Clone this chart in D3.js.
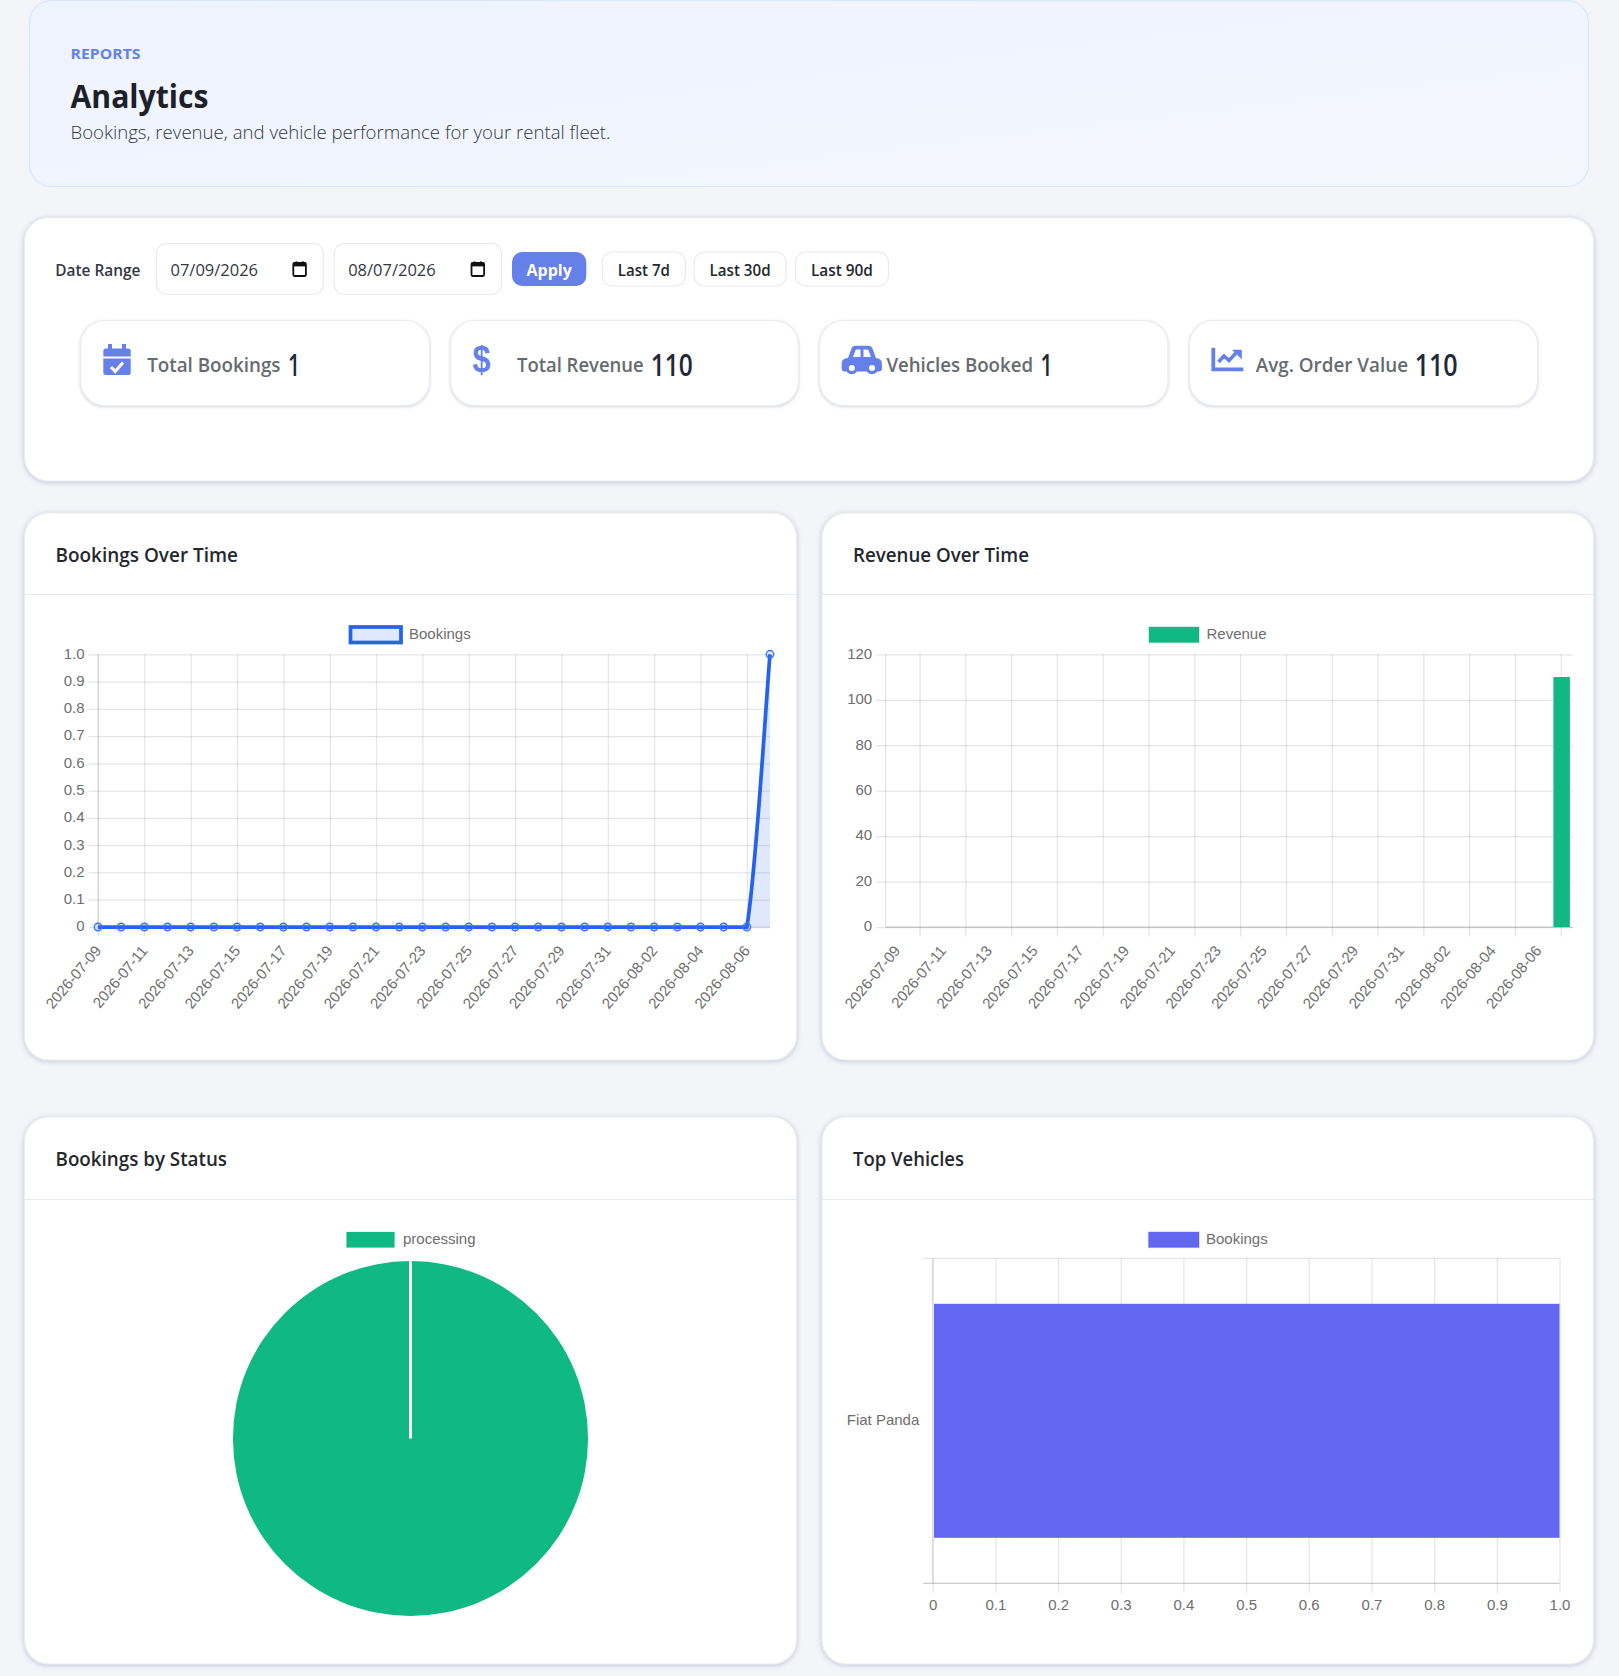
<!DOCTYPE html>
<html>
<head>
<meta charset="utf-8">
<title>Analytics</title>
<script src="https://cdn.jsdelivr.net/npm/d3@7"></script>
<style>
  html, body { margin: 0; padding: 0; background: #f4f5f9; }
  svg { display: block; }
  .ui { font-family: "Open Sans", "Noto Sans", sans-serif; }
  .chart text { font-family: "Liberation Sans", Arial, sans-serif; font-size: 15px; fill: #6e6e6e; }
  .panel { filter: drop-shadow(0 1px 2.5px rgba(45, 55, 100, 0.25)); }
  .kpi { filter: drop-shadow(0 1px 1.5px rgba(45, 55, 100, 0.2)); }
</style>
</head>
<body>
<div id="wrapper"></div>
<script>
const dates = ["2026-07-09", "2026-07-10", "2026-07-11", "2026-07-12", "2026-07-13", "2026-07-14",
  "2026-07-15", "2026-07-16", "2026-07-17", "2026-07-18", "2026-07-19", "2026-07-20", "2026-07-21",
  "2026-07-22", "2026-07-23", "2026-07-24", "2026-07-25", "2026-07-26", "2026-07-27", "2026-07-28",
  "2026-07-29", "2026-07-30", "2026-07-31", "2026-08-01", "2026-08-02", "2026-08-03", "2026-08-04",
  "2026-08-05", "2026-08-06", "2026-08-07"]
const bookings = [0, 0, 0, 0, 0, 0, 0, 0, 0, 0, 0, 0, 0, 0, 0, 0, 0, 0, 0, 0, 0, 0, 0, 0, 0, 0, 0, 0, 0, 1]
const revenue = [0, 0, 0, 0, 0, 0, 0, 0, 0, 0, 0, 0, 0, 0, 0, 0, 0, 0, 0, 0, 0, 0, 0, 0, 0, 0, 0, 0, 0, 110]
const statusNames = ["processing"]
const statusCounts = [1]
const vehicleNames = ["Fiat Panda"]
const vehicleBookings = [1]
const kpiLabels = ["Total Bookings", "Total Revenue", "Vehicles Booked", "Avg. Order Value"]
const kpiValues = ["1", "110", "1", "110"]
const rangeButtons = ["Last 7d", "Last 30d", "Last 90d"]
const bookingTicks = d3.range(0, 11).map(d => d / 10)
const revenueTicks = [0, 20, 40, 60, 80, 100, 120]
const vehicleTicks = d3.range(0, 11).map(d => d / 10)

const blue = "#2563eb"
const green = "#10b981"
const indigo = "#6366f1"
const accent = "#6580e9"
const gridColor = "rgba(0,0,0,0.1)"
const borderColor = "rgba(0,0,0,0.2)"

const svg = d3.select("#wrapper").append("svg")
  .attr("width", 1619)
  .attr("height", 1676)

const defs = svg.append("defs")
const heroGradient = defs.append("linearGradient").attr("id", "hero")
  .attr("x1", "0%").attr("y1", "0%").attr("x2", "100%").attr("y2", "100%")
heroGradient.append("stop").attr("offset", "0%").attr("stop-color", "#edf3ff")
heroGradient.append("stop").attr("offset", "100%").attr("stop-color", "#f5f7ff")

function box(parent, x0, y0, x1, y1, r, fill, stroke, cls) {
  return parent.append("rect")
    .attr("class", cls || null)
    .attr("x", x0).attr("y", y0)
    .attr("width", x1 - x0).attr("height", y1 - y0)
    .attr("rx", r)
    .attr("fill", fill)
    .attr("stroke", stroke || "none")
    .attr("stroke-width", stroke ? 1.2 : null)
}

function label(parent, x, y, str, o) {
  const t = parent.append("text")
    .attr("class", "ui")
    .attr("x", x).attr("y", y)
    .attr("font-size", o.size)
    .attr("font-weight", o.weight || 400)
    .attr("fill", o.fill || "#333")
    .attr("text-anchor", o.anchor || "start")
    .text(str)
  if (o.width) t.attr("textLength", o.width).attr("lengthAdjust", "spacingAndGlyphs")
  return t
}

// page header
box(svg, 29.5, 0.5, 1588.5, 186.5, 22, "url(#hero)", "#d9e5fb")
label(svg, 70.5, 59, "REPORTS", { size: 15, weight: 700, fill: accent, width: 70 })
label(svg, 70.5, 107.5, "Analytics", { size: 33, weight: 700, fill: "#1d2127", width: 138 })
label(svg, 70.5, 138.8, "Bookings, revenue, and vehicle performance for your rental fleet.", { size: 19, weight: 300, fill: "#33383f", width: 540 })

// filter panel
box(svg, 24.5, 217.5, 1593.5, 481, 24, "#fff", "#ebedf2", "panel")
label(svg, 55.3, 276, "Date Range", { size: 16, weight: 600, fill: "#33383f", width: 85 })

const inputs = [["07/09/2026", 156.5, 323.3], ["08/07/2026", 334.2, 501.5]]
inputs.forEach(([value, x0, x1]) => {
  box(svg, x0, 243.5, x1, 294.5, 10, "#fff", "#e8eaef")
  label(svg, x0 + 14, 276, value, { size: 16, fill: "#33383f", width: 87.5 })
  // native date input calendar glyph
  const ix = x1 - 30
  box(svg, ix, 263, ix + 12.6, 276, 1.2, "#fff", "#111").attr("stroke-width", 1.8)
  svg.append("rect").attr("x", ix).attr("y", 263).attr("width", 12.6).attr("height", 3.4).attr("fill", "#111")
  svg.append("rect").attr("x", ix + 2.2).attr("y", 261.4).attr("width", 1.8).attr("height", 2).attr("fill", "#111")
  svg.append("rect").attr("x", ix + 8.6).attr("y", 261.4).attr("width", 1.8).attr("height", 2).attr("fill", "#111")
})

box(svg, 512, 252, 586.3, 286, 10, accent)
label(svg, 549.2, 276, "Apply", { size: 16, weight: 700, fill: "#fff", anchor: "middle" })

const buttonEdges = [[602.3, 685.4], [694.2, 786], [795.5, 888.4]]
const buttonWidths = [52, 61, 62]
rangeButtons.forEach((d, i) => {
  const [x0, x1] = buttonEdges[i]
  box(svg, x0, 252, x1, 286, 10, "#fff", "#e8eaef")
  label(svg, (x0 + x1) / 2, 276, d, { size: 16, weight: 600, fill: "#24282e", anchor: "middle", width: buttonWidths[i] })
})

// kpi cards
const kpiBoxes = [[80.5, 429.5, 147.2, 133.3, 288, 12], [450.5, 798.5, 517, 126.6, 650.8, 42],
  [819.5, 1168, 886.4, 146.6, 1040.6, 12], [1189.5, 1537.5, 1255.8, 152.2, 1414.7, 43]]
kpiLabels.forEach((d, i) => {
  const [x0, x1, lx, lw, vx, vw] = kpiBoxes[i]
  box(svg, x0, 320.5, x1, 405.5, 24, "#fff", "#e9ebf0", "kpi")
  label(svg, lx, 371.5, d, { size: 20, weight: 600, fill: "#666b70", width: lw })
  label(svg, vx, 375.5, kpiValues[i], { size: 30, weight: 600, fill: "#1f2937", width: vw })
})

// calendar icon
const cal = svg.append("g").attr("fill", accent)
cal.append("rect").attr("x", 108).attr("y", 344).attr("width", 4).attr("height", 7)
cal.append("rect").attr("x", 122).attr("y", 344).attr("width", 4).attr("height", 7)
cal.append("path").attr("d", "M103.3 351a2.5 2.5 0 0 1 2.5-2.5h22.4a2.5 2.5 0 0 1 2.5 2.5v5.5h-27.4z")
cal.append("path").attr("d", "M103.3 358.5h27.4v14a2.5 2.5 0 0 1-2.5 2.5h-22.4a2.5 2.5 0 0 1-2.5-2.5z")
cal.append("path").attr("d", "M111 367l4.2 4.4 7.8-9").attr("fill", "none").attr("stroke", "#fff").attr("stroke-width", 3)

// dollar icon
svg.append("text").attr("x", 472.6).attr("y", 371.5)
  .attr("font-family", "Liberation Sans").attr("font-weight", 700).attr("font-size", 37)
  .attr("textLength", 18).attr("lengthAdjust", "spacingAndGlyphs")
  .attr("fill", accent).text("$")

// car icon
const car = svg.append("g")
car.append("path").attr("fill", accent)
  .attr("d", "M848 358l3.4-9.2a4.5 4.5 0 0 1 4.2-3h12.8a4.5 4.5 0 0 1 4.2 3l3.4 9.2 2.2 .6c2.3 .6 3.7 2.4 3.7 4.8v5.6a2.4 2.4 0 0 1-2.4 2.4h-35.4a2.4 2.4 0 0 1-2.4-2.4v-5.6c0-2.4 1.4-4.2 3.7-4.8z")
car.append("path").attr("fill", "#fff").attr("d", "M853 357l2.4-6.5a1.5 1.5 0 0 1 1.4-1h3.7v7.5z")
car.append("path").attr("fill", "#fff").attr("d", "M871 357l-2.4-6.5a1.5 1.5 0 0 0-1.4-1h-3.7v7.5z")
const wheels = [851.8, 872]
car.selectAll(".wheel").data(wheels).enter().append("circle")
  .attr("cx", d => d).attr("cy", 368).attr("r", 4.6)
  .attr("fill", "#fff").attr("stroke", accent).attr("stroke-width", 3.2)

// chart-line icon
const cl = svg.append("g")
cl.append("path").attr("fill", accent).attr("d", "M1211.4 347.7h3.8v19.8h28.2v3.8h-32z")
cl.append("path").attr("fill", "none").attr("stroke", accent).attr("stroke-width", 3.6)
  .attr("d", "M1218.5 362l5.5-6 5 4.5 8-8.5")
cl.append("path").attr("fill", accent).attr("d", "M1232 349.7h9.8v9.8z")

// chart cards
const cards = [
  { x0: 24.5, x1: 796.5, y0: 513, y1: 1060, title: "Bookings Over Time" },
  { x0: 822, x1: 1593.5, y0: 513, y1: 1060, title: "Revenue Over Time" },
  { x0: 24.5, x1: 796.5, y0: 1117, y1: 1664, title: "Bookings by Status" },
  { x0: 822, x1: 1593.5, y0: 1117, y1: 1664, title: "Top Vehicles" }
]
const titleWidths = [182.5, 176, 171.5, 111]
cards.forEach((c, i) => {
  const rule = c.y0 + (i < 2 ? 81.5 : 82.5)
  box(svg, c.x0, c.y0, c.x1, c.y1, 24, "#fff", "#ebedf2", "panel")
  svg.append("line").attr("x1", c.x0).attr("x2", c.x1)
    .attr("y1", rule).attr("y2", rule)
    .attr("stroke", "#e9ebf0").attr("stroke-width", 1.2)
  label(svg, c.x0 + 31, c.y0 + 49, c.title, { size: 19.5, weight: 600, fill: "#24282e", width: titleWidths[i] })
})

const chart = svg.append("g").attr("class", "chart")

function legend(cx, cy, x0, x1, name, fill, stroke, sw) {
  chart.append("rect")
    .attr("x", x0).attr("y", cy - 7.5).attr("width", x1 - x0).attr("height", 15.5)
    .attr("fill", fill).attr("stroke", stroke).attr("stroke-width", sw)
  chart.append("text").attr("x", cx).attr("y", cy + 4.5).text(name)
}

function styleAxis(g) {
  g.select(".domain").remove()
  g.selectAll("line").attr("stroke", gridColor).attr("stroke-width", 1.25)
}

// horizontal grid and y labels shared by the two time charts
function drawYAxis(y, ticks, x0, x1, fmt) {
  const g = chart.append("g")
    .attr("transform", `translate(${x0},0)`)
    .call(d3.axisLeft(y).tickValues(ticks).tickFormat(fmt).tickSize(9.5).tickPadding(4))
    .call(styleAxis)
  g.selectAll("line").attr("x2", -9.5).attr("x1", x1 - x0)
  g.selectAll("text").attr("y", -1)
  return g
}

function drawXAxis(scale, every, yTop, yBottom) {
  const g = chart.append("g")
    .attr("transform", `translate(0,${yBottom})`)
    .call(d3.axisBottom(scale).tickValues(every).tickSize(9.5).tickFormat(() => ""))
    .call(styleAxis)
  g.selectAll("line").attr("y1", yTop - yBottom).attr("y2", 9.5)
  return g
}

function rotatedLabels(xpos, yBottom) {
  chart.append("g").selectAll("text")
    .data(dates.filter((d, i) => i % 2 === 0))
    .enter().append("text")
      .attr("text-anchor", "end")
      .attr("transform", d => `translate(${xpos(d) + 4},${yBottom + 24}) rotate(-50)`)
      .text(d => d)
}

// chart.js style spline, control points capped to the plot area
function cappedSpline(pts, tension, yMin, yMax) {
  const p = d3.path()
  const cap = v => Math.min(yMax, Math.max(yMin, v))
  pts.forEach((pt, i) => {
    if (i === 0) { p.moveTo(pt[0], pt[1]); return }
    const a = pts[i - 1]
    const before = pts[i - 2] || a
    const after = pts[i + 1] || pt
    const c1x = a[0] + tension * (pt[0] - before[0])
    const c1y = a[1] + tension * (pt[1] - before[1])
    const c2x = pt[0] - tension * (after[0] - a[0])
    const c2y = pt[1] - tension * (after[1] - a[1])
    p.bezierCurveTo(c1x, cap(c1y), c2x, cap(c2y), pt[0], pt[1])
  })
  return p.toString()
}

// bookings over time
{
  const top = 654.3, bottom = 927, left = 98, right = 770
  const x = d3.scalePoint().domain(dates).range([left, right])
  const y = d3.scaleLinear().domain([0, 1]).range([bottom, top])

  drawYAxis(y, bookingTicks, left, right, d => d === 0 ? "0" : d3.format(".1f")(d))
  drawXAxis(x, dates.filter((d, i) => i % 2 === 0), top, bottom)
  chart.append("line").attr("x1", left).attr("x2", left).attr("y1", top).attr("y2", bottom)
    .attr("stroke", gridColor).attr("stroke-width", 1.25)
  chart.append("line").attr("x1", left).attr("x2", right).attr("y1", bottom).attr("y2", bottom)
    .attr("stroke", gridColor).attr("stroke-width", 1.25)
  rotatedLabels(x, bottom)

  const pts = dates.map((d, i) => [x(d), y(bookings[i])])
  const curve = cappedSpline(pts, 0.2, top, bottom)
  chart.append("path")
    .attr("d", `${curve}L${right},${bottom}L${left},${bottom}Z`)
    .attr("fill", "rgba(37,99,235,0.15)")
  chart.append("path")
    .attr("d", curve)
    .attr("fill", "none")
    .attr("stroke", blue)
    .attr("stroke-width", 3.75)
  chart.append("g").selectAll("circle")
    .data(pts)
    .enter().append("circle")
      .attr("cx", d => d[0])
      .attr("cy", d => d[1])
      .attr("r", 3.75)
      .attr("fill", "rgba(37,99,235,0.15)")
      .attr("stroke", "#3b74ef")
      .attr("stroke-width", 1.4)
  legend(409, 634.5, 350.5, 401, "Bookings", "rgba(37,99,235,0.15)", blue, 3.75)
}

// revenue over time
{
  const top = 654.3, bottom = 927, left = 885.7, right = 1572.7
  const x = d3.scaleBand().domain(dates).range([left, right])
  const y = d3.scaleLinear().domain([0, 120]).range([bottom, top])

  drawYAxis(y, revenueTicks, left, right, d3.format("d"))
  // grid lines sit halfway between the shown labels
  drawXAxis(x, dates.filter((d, i) => i % 2 === 1), top, bottom)
  chart.append("line").attr("x1", left).attr("x2", left).attr("y1", top).attr("y2", bottom)
    .attr("stroke", gridColor).attr("stroke-width", 1.25)
  chart.append("line").attr("x1", left).attr("x2", right).attr("y1", bottom).attr("y2", bottom)
    .attr("stroke", borderColor).attr("stroke-width", 1.25)
  rotatedLabels(d => x(d) + x.bandwidth() / 2, bottom)

  const barWidth = x.bandwidth() * 0.72
  chart.append("g").selectAll("rect")
    .data(revenue)
    .enter().append("rect")
      .attr("x", (d, i) => x(dates[i]) + (x.bandwidth() - barWidth) / 2 + 0.4)
      .attr("y", d => y(d))
      .attr("width", barWidth)
      .attr("height", d => bottom - y(d))
      .attr("fill", green)
  legend(1206.5, 634.5, 1149, 1199, "Revenue", green, "rgba(16,185,129,0.35)", 1.25)
}

// bookings by status
{
  const cx = 410.5, cy = 1438.5, radius = 177.5
  const slices = d3.pie().sort(null)(statusCounts)
  const arc = d3.arc().innerRadius(0).outerRadius(radius)
  const pieGroup = chart.append("g").attr("transform", `translate(${cx},${cy})`)
  pieGroup.selectAll("path")
    .data(slices)
    .enter().append("path")
      .attr("d", arc)
      .attr("fill", green)
  // slice edge, chart.js strokes it even for a full circle
  pieGroup.selectAll("line")
    .data(slices)
    .enter().append("line")
      .attr("x1", 0).attr("y1", 0)
      .attr("x2", d => d3.pointRadial(d.startAngle, radius)[0])
      .attr("y2", d => d3.pointRadial(d.startAngle, radius)[1])
      .attr("stroke", "#fff")
      .attr("stroke-width", 3)
  legend(403, 1239.5, 346.5, 394.5, statusNames[0], green, "rgba(16,185,129,0.2)", 1)
}

// top vehicles
{
  const top = 1258.3, bottom = 1583.3, left = 932.7, right = 1559.5
  const x = d3.scaleLinear().domain([0, 1]).range([left, right])
  const y = d3.scaleBand().domain(vehicleNames).range([top, bottom])

  const xAxis = chart.append("g")
    .attr("transform", `translate(0,${bottom})`)
    .call(d3.axisBottom(x).tickValues(vehicleTicks).tickFormat(d => d === 0 ? "0" : d3.format(".1f")(d)).tickSize(9.5).tickPadding(7))
    .call(styleAxis)
  xAxis.selectAll("line").attr("y1", top - bottom).attr("y2", 9.5)
  chart.append("line").attr("x1", left).attr("x2", left).attr("y1", top).attr("y2", bottom)
    .attr("stroke", gridColor).attr("stroke-width", 1.25)

  const yAxis = chart.append("g")
    .attr("transform", `translate(${left},0)`)
    .call(d3.axisLeft(y).tickSize(0).tickPadding(13.4))
  yAxis.select(".domain").remove()
  yAxis.selectAll("text").attr("y", -1)
  chart.append("line").attr("x1", left - 9.5).attr("x2", right).attr("y1", top).attr("y2", top)
    .attr("stroke", gridColor).attr("stroke-width", 1.25)
  chart.append("line").attr("x1", left - 9.5).attr("x2", right).attr("y1", bottom).attr("y2", bottom)
    .attr("stroke", borderColor).attr("stroke-width", 1.25)

  const barHeight = y.bandwidth() * 0.72
  chart.append("g").selectAll("rect")
    .data(vehicleBookings)
    .enter().append("rect")
      .attr("x", left + 1.3)
      .attr("y", (d, i) => y(vehicleNames[i]) + (y.bandwidth() - barHeight) / 2)
      .attr("width", d => x(d) - left - 1.3)
      .attr("height", barHeight)
      .attr("fill", indigo)
  legend(1206, 1239.5, 1148.5, 1199, "Bookings", indigo, "rgba(99,102,241,0.35)", 1.25)
}
</script>
</body>
</html>
